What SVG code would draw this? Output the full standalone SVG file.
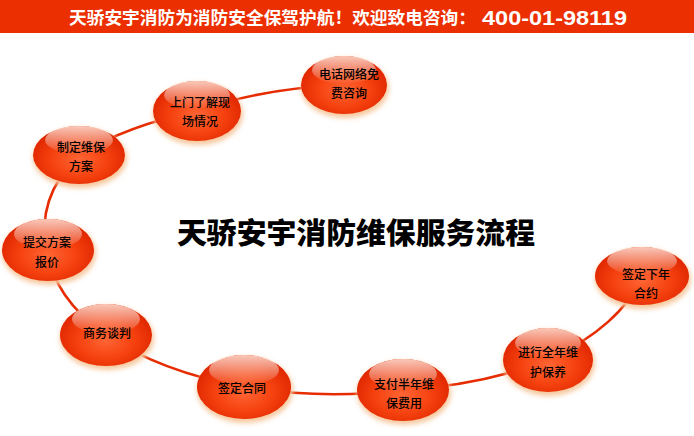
<svg xmlns="http://www.w3.org/2000/svg" width="694" height="436" viewBox="0 0 694 436">
<style>
.bar{fill:#EC2F00}
.hdr{font-family:"Noto Sans CJK SC","Noto Sans",sans-serif;font-weight:bold;fill:#fff;font-size:17.5px}
.num{font-family:"Liberation Sans",Arial,sans-serif;font-weight:bold;fill:#fff;font-size:21px}
.title{font-family:"Noto Sans CJK SC",sans-serif;font-weight:900;fill:#000;font-size:29px}
.lbl{font-family:"Noto Sans CJK SC",sans-serif;fill:#000;font-size:12px;font-weight:500;text-anchor:middle}
.conn{fill:none;stroke:#E62C00;stroke-width:2.6;stroke-linecap:round}
.body{fill:url(#nodeFill)}
.glow{fill:#F6C89E;filter:url(#blur)}
.hi{fill:url(#hiFill)}
</style>
<defs>
<radialGradient id="nodeFill" cx="50%" cy="58%" r="55%">
<stop offset="0" stop-color="#FF6535"/>
<stop offset="0.55" stop-color="#F5420F"/>
<stop offset="1" stop-color="#E02600"/>
</radialGradient>
<linearGradient id="hiFill" x1="0" y1="0" x2="0" y2="1">
<stop offset="0" stop-color="#FFE6DA" stop-opacity="0.85"/>
<stop offset="1" stop-color="#FFFFFF" stop-opacity="0"/>
</linearGradient>
<filter id="blur" x="-20%" y="-20%" width="140%" height="140%">
<feGaussianBlur stdDeviation="2.5"/>
</filter>
</defs>
<rect width="694" height="436" fill="#fff"/>
<rect class="bar" x="0" y="0" width="694" height="33"/>
<text class="hdr" x="69" y="24" textLength="407" lengthAdjust="spacingAndGlyphs">天骄安宇消防为消防安全保驾护航！欢迎致电咨询：</text>
<text class="num" x="482" y="25" textLength="145" lengthAdjust="spacingAndGlyphs">400-01-98119</text>
<text class="title" x="356" y="244" text-anchor="middle" textLength="358" lengthAdjust="spacingAndGlyphs">天骄安宇消防维保服务流程</text>
<g id="connectors">
<path class="conn" d="M344,85 A300,155 0 0 0 197,111"/>
<path class="conn" d="M197,111 A300,155 0 0 0 79,155"/>
<path class="conn" d="M79,155 A300,155 0 0 0 48,250"/>
<path class="conn" d="M48,250 A300,155 0 0 0 106,335"/>
<path class="conn" d="M106,335 A300,155 0 0 0 244,387"/>
<path class="conn" d="M244,387 A300,155 0 0 0 403,390"/>
<path class="conn" d="M403,390 A300,155 0 0 0 548,360"/>
<path class="conn" d="M548,360 A300,155 0 0 0 642,276"/>
</g>
<g id="n1">
<ellipse class="glow" cx="345" cy="88" rx="44" ry="30"/>
<ellipse class="body" cx="344" cy="85" rx="43" ry="29"/>
<ellipse class="hi" cx="344" cy="70" rx="32" ry="14"/>
<text class="lbl" x="349" y="79">电话网络免</text>
<text class="lbl" x="349" y="98">费咨询</text>
</g>
<g id="n2">
<ellipse class="glow" cx="198" cy="114" rx="45" ry="31"/>
<ellipse class="body" cx="197" cy="111" rx="44" ry="30"/>
<ellipse class="hi" cx="197" cy="95" rx="33" ry="14"/>
<text class="lbl" x="200" y="107">上门了解现</text>
<text class="lbl" x="200" y="126">场情况</text>
</g>
<g id="n3">
<ellipse class="glow" cx="80" cy="158" rx="47" ry="30"/>
<ellipse class="body" cx="79" cy="155" rx="46" ry="29"/>
<ellipse class="hi" cx="79" cy="140" rx="34" ry="14"/>
<text class="lbl" x="81" y="152">制定维保</text>
<text class="lbl" x="81" y="171">方案</text>
</g>
<g id="n4">
<ellipse class="glow" cx="49" cy="253" rx="47" ry="32"/>
<ellipse class="body" cx="48" cy="250" rx="46" ry="31"/>
<ellipse class="hi" cx="48" cy="234" rx="34" ry="15"/>
<text class="lbl" x="47" y="247">提交方案</text>
<text class="lbl" x="47" y="267">报价</text>
</g>
<g id="n5">
<ellipse class="glow" cx="107" cy="338" rx="47" ry="32"/>
<ellipse class="body" cx="106" cy="335" rx="46" ry="31"/>
<ellipse class="hi" cx="106" cy="319" rx="34" ry="15"/>
<text class="lbl" x="107" y="338">商务谈判</text>
</g>
<g id="n6">
<ellipse class="glow" cx="245" cy="390" rx="48" ry="33"/>
<ellipse class="body" cx="244" cy="387" rx="47" ry="32"/>
<ellipse class="hi" cx="244" cy="370" rx="35" ry="15"/>
<text class="lbl" x="242" y="393">签定合同</text>
</g>
<g id="n7">
<ellipse class="glow" cx="404" cy="393" rx="47" ry="32"/>
<ellipse class="body" cx="403" cy="390" rx="46" ry="31"/>
<ellipse class="hi" cx="403" cy="374" rx="34" ry="15"/>
<text class="lbl" x="404" y="389">支付半年维</text>
<text class="lbl" x="404" y="408">保费用</text>
</g>
<g id="n8">
<ellipse class="glow" cx="549" cy="363" rx="46" ry="33"/>
<ellipse class="body" cx="548" cy="360" rx="45" ry="32"/>
<ellipse class="hi" cx="548" cy="343" rx="33" ry="15"/>
<text class="lbl" x="548" y="357">进行全年维</text>
<text class="lbl" x="548" y="377">护保养</text>
</g>
<g id="n9">
<ellipse class="glow" cx="643" cy="279" rx="48" ry="30"/>
<ellipse class="body" cx="642" cy="276" rx="47" ry="29"/>
<ellipse class="hi" cx="642" cy="261" rx="35" ry="14"/>
<text class="lbl" x="646" y="279">签定下年</text>
<text class="lbl" x="646" y="298">合约</text>
</g>
</svg>
